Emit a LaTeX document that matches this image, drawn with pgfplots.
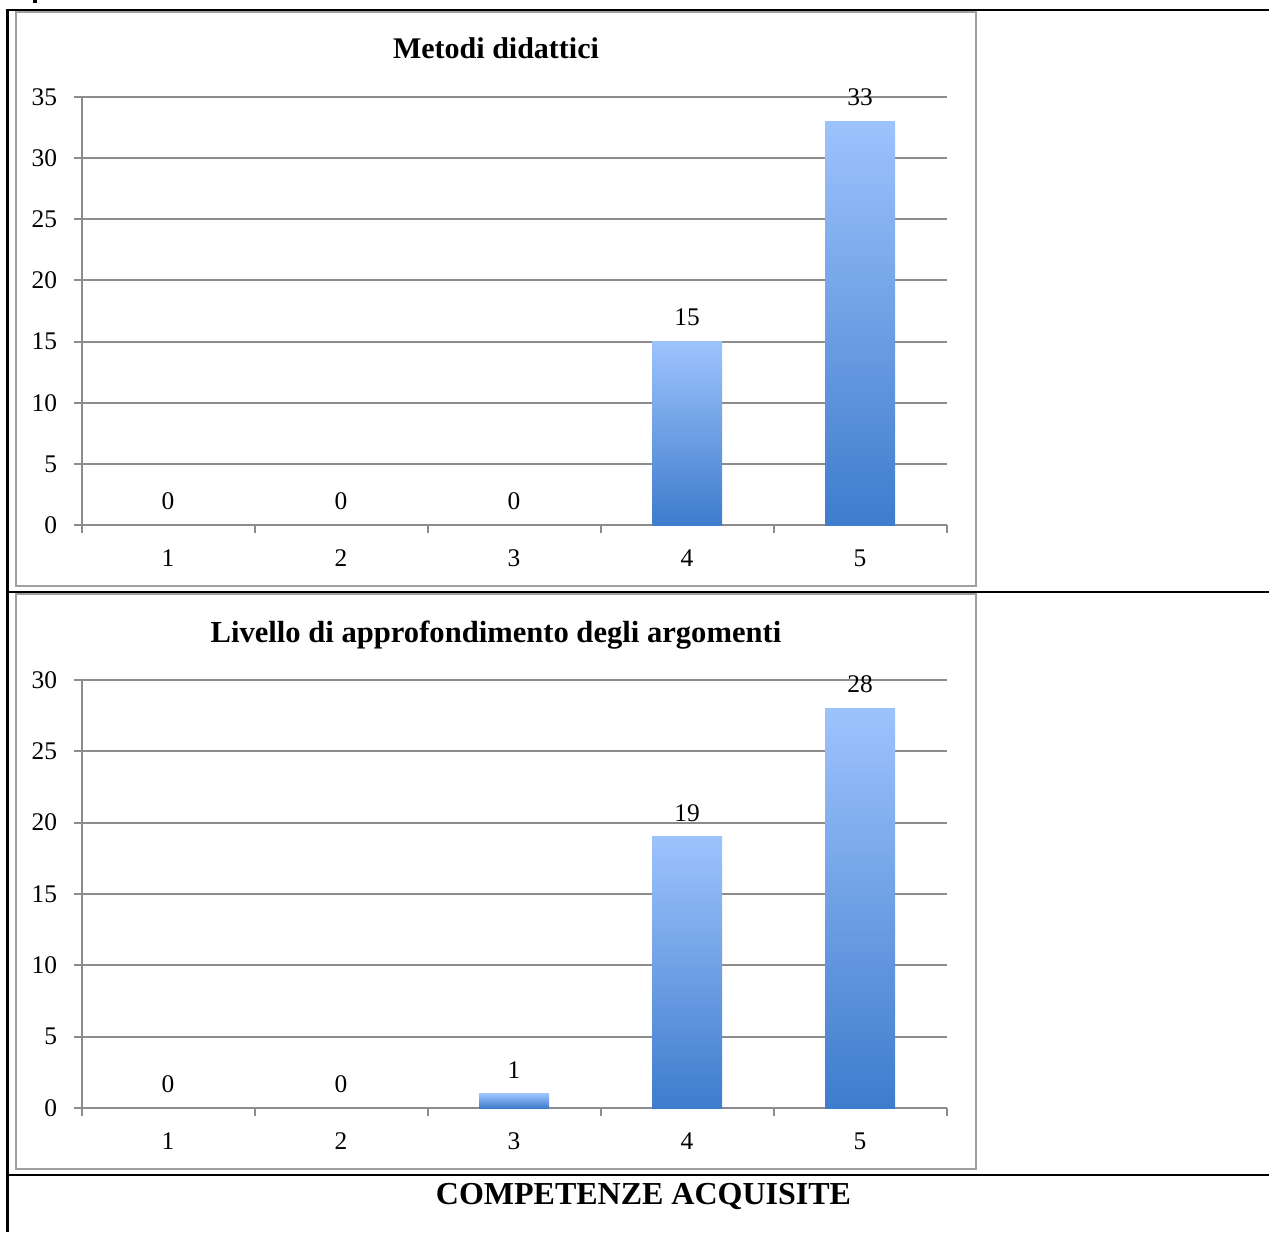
\documentclass[border=0pt]{standalone}
\usepackage{pgfplots}
\pgfplotsset{compat=1.18}
\usepackage{fontspec}
\setmainfont{Liberation Serif}
\definecolor{gridc}{RGB}{140,140,140}
\definecolor{framec}{RGB}{160,160,160}
\definecolor{barTop}{RGB}{157,195,252}
\definecolor{barBot}{RGB}{62,124,205}
\pgfplotsset{mychart/.style={
  scale only axis, width=432.5pt,
  xmin=0.5, xmax=5.5, ymin=0,
  axis x line*=bottom, axis y line*=left,
  axis line style={gridc, line width=1pt},
  ymajorgrids, grid style={gridc, line width=1pt},
  tick align=outside, major tick length=4pt,
  every tick/.style={gridc, line width=1pt},
  xtick={0.5,1.5,2.5,3.5,4.5,5.5},
  xticklabels={,,,,,},
  extra x ticks={1,2,3,4,5},
  extra x tick labels={1,2,3,4,5},
  extra x tick style={major tick length=0pt},
  xticklabel style={anchor=center, inner sep=0pt, yshift=-16.5pt},
  yticklabel style={anchor=east, inner sep=0pt, xshift=-8pt},
  tick label style={font=\fontsize{12.7}{15}\selectfont},
  /pgf/number format/assume math mode=true,
  clip=false,
},
bar/.style={ybar, bar width=35pt, draw=none, top color=barTop, bottom color=barBot},
lab/.style={draw=none, mark=none, nodes near coords,
  nodes near coords style={anchor=center, inner sep=0pt, yshift=12pt, font=\fontsize{12.7}{15}\selectfont}}}
\begin{document}
\begin{tikzpicture}
\useasboundingbox (0pt,0pt) rectangle (634.5pt,-616pt);
% table lines
\draw[black, line width=1pt] (3pt,-5pt) -- (634.5pt,-5pt);
\draw[black, line width=1pt] (3pt,-296pt) -- (634.5pt,-296pt);
\draw[black, line width=1pt] (3pt,-587.5pt) -- (634.5pt,-587.5pt);
\draw[black, line width=1.5pt] (3.75pt,-4.5pt) -- (3.75pt,-616pt);
\fill[black] (16.5pt,0pt) rectangle (18.5pt,-1.3pt);
% chart frames
\draw[framec, line width=1pt] (8pt,-6pt) rectangle (488pt,-293pt);
\draw[framec, line width=1pt] (8pt,-297pt) rectangle (488pt,-584.5pt);
% chart 1
\begin{axis}[mychart, at={(40.75pt,-262.5pt)}, anchor=origin, height=214pt,
  ymax=35, ytick={0,5,...,35}]
\addplot[bar] coordinates {(4,15)};
\addplot[bar] coordinates {(5,33)};
\addplot[lab] coordinates {(1,0) (2,0) (3,0) (4,15) (5,33)};
\end{axis}
\node[anchor=base, font=\fontsize{15}{18}\selectfont\bfseries] at (248pt,-29pt) {Metodi didattici};
% chart 2
\begin{axis}[mychart, at={(40.75pt,-554pt)}, anchor=origin, height=214pt,
  ymax=30, ytick={0,5,...,30}]
\addplot[bar] coordinates {(3,1)};
\addplot[bar] coordinates {(4,19)};
\addplot[bar] coordinates {(5,28)};
\addplot[lab] coordinates {(1,0) (2,0) (3,1) (4,19) (5,28)};
\end{axis}
\node[anchor=base, font=\fontsize{15.3}{18}\selectfont\bfseries] at (248pt,-321pt) {Livello di approfondimento degli argomenti};
\node[anchor=base, font=\fontsize{16}{19}\selectfont\bfseries] at (321.75pt,-602pt) {COMPETENZE ACQUISITE};
\end{tikzpicture}
\end{document}
